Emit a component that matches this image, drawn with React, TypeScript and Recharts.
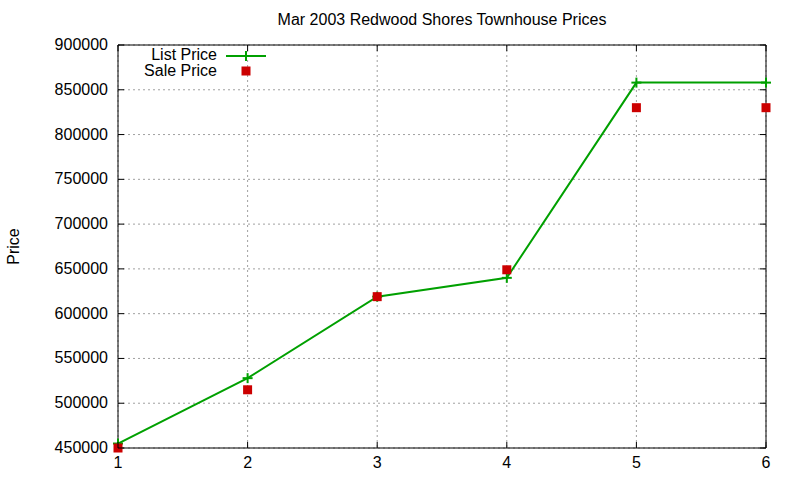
import React from 'react';
import {
    ComposedChart,
    Line,
    XAxis,
    YAxis,
    CartesianGrid,
    ReferenceLine,
} from 'recharts';

const days = [1, 2, 3, 4, 5, 6];
const listPrice = [455000, 528000, 619000, 640000, 858000, 858000];
const salePrice = [450000, 515000, 619000, 649000, 830000, 830000];
const priceTicks = [450000, 500000, 550000, 600000, 650000, 700000, 750000, 800000, 850000, 900000];

const data = days.map((d, i) => ({ day: d, list: listPrice[i], sale: salePrice[i] }));

const GREEN = '#00a000';
const RED = '#cc0000';
const FONT = '"Liberation Sans", Arial, sans-serif';
const PLOT_W = 648;
const PLOT_H = 403;

// gnuplot style ticks point inward, on both sides of the box
const YTick = (props: any) => {
    const { x, y, payload } = props;
    const ax = x + 10;
    return (
        <g>
            <line x1={ax} x2={ax + 6} y1={y} y2={y} stroke="#000" />
            <line x1={ax + PLOT_W - 6} x2={ax + PLOT_W} y1={y} y2={y} stroke="#000" />
            <text x={x} y={y} dy={5} textAnchor="end" fontSize={16} fontFamily={FONT} fill="#000">
                {payload.value}
            </text>
        </g>
    );
};

const XTick = (props: any) => {
    const { x, y, payload } = props;
    const ay = y - 6;
    return (
        <g>
            <line x1={x} x2={x} y1={ay} y2={ay - 6} stroke="#000" />
            <line x1={x} x2={x} y1={ay - PLOT_H} y2={ay - PLOT_H + 6} stroke="#000" />
            <text x={x} y={y} dy={14} textAnchor="middle" fontSize={16} fontFamily={FONT} fill="#000">
                {payload.value}
            </text>
        </g>
    );
};

const PlusDot = (props: any) => {
    const { cx, cy } = props;
    if (cx == null || cy == null) return null;
    return (
        <g>
            <line x1={cx - 5} x2={cx + 5} y1={cy} y2={cy} stroke={GREEN} strokeWidth={2} />
            <line x1={cx} x2={cx} y1={cy - 5} y2={cy + 5} stroke={GREEN} strokeWidth={2} />
        </g>
    );
};

const SquareDot = (props: any) => {
    const { cx, cy } = props;
    if (cx == null || cy == null) return null;
    return <rect x={cx - 4.5} y={cy - 4.5} width={9} height={9} fill={RED} />;
};

// key box drawn over the plot, like gnuplot's "set key left top"
const KeyBox = () => (
    <svg width={160} height={38} style={{ fontFamily: FONT, fontSize: 16, display: 'block' }}>
        <text x={99} y={9} dy={5} textAnchor="end" fill="#000">List Price</text>
        <line x1={108} x2={148} y1={10} y2={10} stroke={GREEN} strokeWidth={2} />
        <line x1={128} x2={128} y1={5} y2={15} stroke={GREEN} strokeWidth={2} />
        <text x={99} y={25} dy={5} textAnchor="end" fill="#000">Sale Price</text>
        <rect x={123.5} y={20.5} width={9} height={9} fill={RED} />
    </svg>
);

export default function App() {
    return (
        <div style={{ position: 'absolute', left: 0, top: 0, width: 800, height: 480, background: '#fff' }}>
            <div
                style={{
                    position: 'absolute',
                    top: 11,
                    left: 118,
                    width: PLOT_W,
                    textAlign: 'center',
                    fontFamily: FONT,
                    fontSize: 16,
                    color: '#000',
                }}
            >
                Mar 2003 Redwood Shores Townhouse Prices
            </div>
            <ComposedChart
                width={800}
                height={480}
                data={data}
                margin={{ top: 45, right: 34, left: 0, bottom: 0 }}
            >
                <CartesianGrid stroke="#a0a0a0" strokeDasharray="2 3" />
                <XAxis
                    dataKey="day"
                    type="number"
                    domain={[1, 6]}
                    ticks={days}
                    height={32}
                    tickSize={0}
                    tickMargin={6}
                    tick={<XTick />}
                    tickLine={false}
                    axisLine={{ stroke: '#000' }}
                />
                <YAxis
                    type="number"
                    domain={[450000, 900000]}
                    ticks={priceTicks}
                    width={118}
                    tickSize={0}
                    tickMargin={10}
                    tick={<YTick />}
                    tickLine={false}
                    axisLine={{ stroke: '#000' }}
                    label={{
                        value: 'Price',
                        angle: -90,
                        position: 'insideLeft',
                        offset: 13,
                        style: { fontFamily: FONT, fontSize: 16, fill: '#000', textAnchor: 'middle' },
                    }}
                />
                <ReferenceLine y={900000} stroke="#000" />
                <ReferenceLine x={6} stroke="#000" />
                <Line
                    dataKey="list"
                    name="List Price"
                    stroke={GREEN}
                    strokeWidth={2}
                    dot={<PlusDot />}
                    activeDot={false}
                    isAnimationActive={false}
                />
                <Line
                    dataKey="sale"
                    name="Sale Price"
                    stroke="none"
                    dot={<SquareDot />}
                    activeDot={false}
                    isAnimationActive={false}
                />
            </ComposedChart>
            <div style={{ position: 'absolute', top: 46, left: 118 }}>
                <KeyBox />
            </div>
        </div>
    );
}
